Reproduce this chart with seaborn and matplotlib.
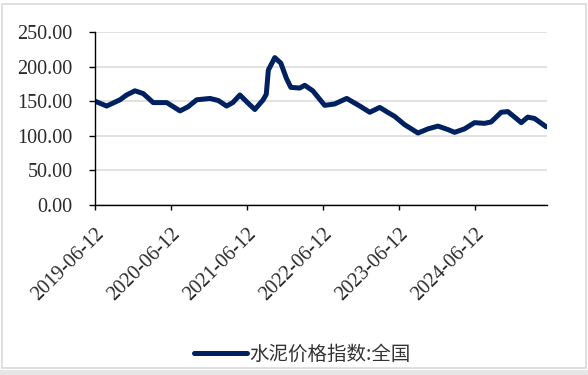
import matplotlib
matplotlib.use("Agg")
import matplotlib.pyplot as plt
from matplotlib.patches import Rectangle
import seaborn as sns
import pandas as pd

dates = ["2019-06-12", "2019-08-07", "2019-10-10", "2019-11-11", "2019-12-21",
         "2020-01-30", "2020-03-18", "2020-05-22", "2020-07-25", "2020-09-02",
         "2020-10-13", "2020-12-16", "2021-01-25", "2021-03-06", "2021-04-05",
         "2021-05-09", "2021-06-18", "2021-07-20", "2021-08-29", "2021-09-13",
         "2021-09-23", "2021-10-24", "2021-11-22", "2021-12-19", "2022-01-09",
         "2022-02-21", "2022-03-17", "2022-04-25", "2022-06-21", "2022-08-08",
         "2022-10-05", "2022-12-07", "2023-01-24", "2023-03-13", "2023-04-20",
         "2023-05-24", "2023-07-11", "2023-09-13", "2023-10-31", "2023-12-18",
         "2024-02-04", "2024-03-07", "2024-04-24", "2024-06-11", "2024-07-29",
         "2024-08-30", "2024-10-17", "2024-11-18", "2024-12-21", "2025-01-22",
         "2025-02-22", "2025-03-27", "2025-05-22"]
values = [150, 143, 152, 159, 165,
          161, 148, 148, 136, 142,
          152, 154, 151, 143, 148,
          159, 147, 138, 152, 160,
          195, 213, 205, 183, 170,
          169, 173, 165, 144, 146,
          154, 143, 134, 141, 134,
          128, 116, 104, 110, 114,
          109, 105, 110, 119, 118,
          120, 134, 135, 127, 119,
          127, 125, 113]
series_name = "水泥价格指数:全国"
tick_dates = ["2019-06-12", "2020-06-12", "2021-06-12", "2022-06-12", "2023-06-12", "2024-06-12"]
y_ticks = [0, 50, 100, 150, 200, 250]

df = pd.DataFrame({"date": pd.to_datetime(dates), "value": values, "series": series_name})

sns.set_style("white")
plt.rcParams["font.family"] = ["Noto Sans CJK SC", "DejaVu Sans"]

fig = plt.figure(figsize=(5.88, 3.75), dpi=100)
ax = fig.add_axes([0.1616, 0.4533, 0.7684, 0.4614])

sns.lineplot(data=df, x="date", y="value", hue="series", palette=["#002060"],
             linewidth=3.6, ax=ax, legend=True)
for ln in ax.get_lines():
    ln.set_solid_joinstyle("round")
    ln.set_solid_capstyle("round")

ax.set_ylim(0, 250)
ax.set_xlim(pd.Timestamp("2019-06-12"), pd.Timestamp("2025-05-25"))
ax.set_yticks(y_ticks)
ax.set_yticklabels([f"{v:.2f}" for v in y_ticks], family="Liberation Serif",
                   fontsize=14.5, color="#2a2a2a")
ax.set_xticks(pd.to_datetime(tick_dates))
ax.set_xticklabels(tick_dates, rotation=45, ha="right", rotation_mode="anchor",
                   family="Liberation Serif", fontsize=14.5, color="#2a2a2a")
ax.yaxis.grid(True, color="#d9d9d9", linewidth=1.1)
ax.xaxis.grid(False)
ax.set_axisbelow(True)
for s in ["top", "right"]:
    ax.spines[s].set_visible(False)
for s in ["left", "bottom"]:
    ax.spines[s].set_color("#000000")
    ax.spines[s].set_linewidth(1.0)
ax.tick_params(axis="y", which="major", direction="out", length=4.3, width=1,
               color="#000000", left=True, pad=12)
ax.tick_params(axis="x", which="major", direction="out", length=3.6, width=1,
               color="#000000", bottom=True, pad=10.5)
ax.set_xlabel("")
ax.set_ylabel("")

leg = ax.legend(loc="center", bbox_to_anchor=(0.514, 0.056), bbox_transform=fig.transFigure,
                frameon=False, prop={"family": ["Noto Sans CJK SC", "DejaVu Sans"], "size": 14},
                handlelength=2.7, handletextpad=0.1, borderpad=0)
for t in leg.get_texts():
    t.set_color("#333333")
for h in leg.get_lines():
    h.set_linewidth(3.6)

fig.patches.append(Rectangle((0.004, 0.018), 0.992, 0.972, transform=fig.transFigure,
                             fill=False, edgecolor="#d9d9d9", linewidth=1.2))
fig.patches.append(Rectangle((0.0, 0.0), 1.0, 0.014, transform=fig.transFigure,
                             facecolor="#e6e6e6", edgecolor="none"))

fig.savefig("out.png", dpi=100, facecolor="white")
